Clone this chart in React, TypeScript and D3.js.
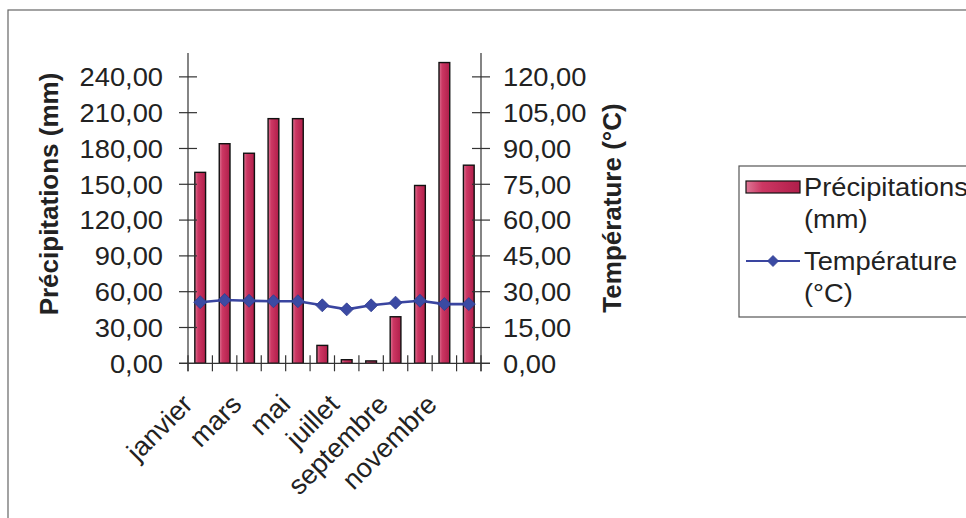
import React, { useMemo } from 'react';
import * as d3 from 'd3';

// Monthly climate data
const months = [
  'janvier', 'février', 'mars', 'avril', 'mai', 'juin',
  'juillet', 'août', 'septembre', 'octobre', 'novembre', 'décembre',
];
const precipitation = [160, 184, 176, 205, 205, 15, 3, 2, 39, 149, 252, 166];
const temperature = [25.6, 26.5, 26.2, 26.0, 26.0, 24.3, 22.6, 24.3, 25.4, 26.2, 24.8, 24.8];
const precipTicks = [0, 30, 60, 90, 120, 150, 180, 210, 240];
const tempTicks = [0, 15, 30, 45, 60, 75, 90, 105, 120];

const FONT = '"Liberation Sans", Arial, sans-serif';

const frLocale = d3.formatLocale({
  decimal: ',',
  thousands: ' ',
  grouping: [3],
  currency: ['', ' €'],
});
const fmt = frLocale.format('.2f');

// the scan is a little wider than tall, so horizontal text gets stretched a bit
const SX = 1.05;

const Label: React.FC<{ x: number; y: number; anchor?: string; children: React.ReactNode }> = ({ x, y, anchor = 'start', children }) => (
  <text
    transform={`translate(${x},${y}) scale(${SX},1)`}
    dy="0.36em"
    textAnchor={anchor}
    fontFamily={FONT}
    fontSize={26}
    fill="#222"
  >
    {children}
  </text>
);

const App: React.FC = () => {
  const svgWidth = 966;
  const svgHeight = 518;

  // plot area
  const left = 188;
  const right = 481;
  const top = 53;
  const bottom = 363.3;

  const chart = useMemo(() => {
    const x = d3.scaleBand<string>()
      .domain(months)
      .range([left, right])
      .paddingInner(0.56)
      .paddingOuter(0.28);

    const yLeft = d3.scaleLinear().domain([0, 260]).range([bottom, top]);
    const yRight = d3.scaleLinear().domain([0, 130]).range([bottom, top]);

    const step = x.step();
    const center = (m: string) => (x(m) ?? 0) + x.bandwidth() / 2;

    const line = d3.line<number>()
      .x((_, i) => center(months[i]))
      .y((d) => yRight(d));

    // category boundaries for tick marks
    const catTicks = d3.range(months.length + 1).map((i) => left + i * step);

    return { x, yLeft, yRight, center, linePath: line(temperature) ?? '', catTicks };
  }, []);

  const { x, yLeft, yRight, center, linePath, catTicks } = chart;
  const axisColor = '#333';
  const diamond = (cx: number, cy: number, r: number) =>
    `M${cx},${cy - r}L${cx + r},${cy}L${cx},${cy + r}L${cx - r},${cy}Z`;

  return (
    <div style={{ position: 'absolute', left: 0, top: 0 }}>
      <svg width={svgWidth} height={svgHeight} viewBox={`0 0 ${svgWidth} ${svgHeight}`} style={{ display: 'block' }}>
        <defs>
          <linearGradient id="barFill" x1="0" x2="1" y1="0" y2="0">
            <stop offset="0%" stopColor="#de7796" />
            <stop offset="30%" stopColor="#cc3763" />
            <stop offset="100%" stopColor="#b01e4a" />
          </linearGradient>
        </defs>

        <rect width={svgWidth} height={svgHeight} fill="#fff" />

        {/* chart frame (runs past the picture) */}
        <rect x={8} y={10} width={1000} height={600} fill="none" stroke="#666" strokeWidth={1.2} />

        {/* bars */}
        {precipitation.map((v, i) => (
          <rect
            key={months[i]}
            x={x(months[i])}
            y={yLeft(v)}
            width={x.bandwidth()}
            height={bottom - yLeft(v)}
            fill="url(#barFill)"
            stroke="#111"
            strokeWidth={1.4}
          />
        ))}

        {/* left axis */}
        <line x1={left} x2={left} y1={top} y2={bottom + 8} stroke={axisColor} strokeWidth={1.2} />
        {precipTicks.map((t) => (
          <g key={`l${t}`}>
            <line x1={left - 9} x2={left + 9} y1={yLeft(t)} y2={yLeft(t)} stroke={axisColor} strokeWidth={1.2} />
            <Label x={163} y={yLeft(t)} anchor="end">{fmt(t)}</Label>
          </g>
        ))}

        {/* right axis */}
        <line x1={right} x2={right} y1={top} y2={bottom + 8} stroke={axisColor} strokeWidth={1.2} />
        {tempTicks.map((t) => (
          <g key={`r${t}`}>
            <line x1={right - 9} x2={right + 9} y1={yRight(t)} y2={yRight(t)} stroke={axisColor} strokeWidth={1.2} />
            <Label x={503} y={yRight(t)}>{fmt(t)}</Label>
          </g>
        ))}

        {/* category axis */}
        <line x1={left - 9} x2={right + 9} y1={bottom} y2={bottom} stroke={axisColor} strokeWidth={1.2} />
        {catTicks.map((cx, i) => (
          <line key={`c${i}`} x1={cx} x2={cx} y1={bottom - 8} y2={bottom + 8} stroke={axisColor} strokeWidth={1.2} />
        ))}
        {months.map((m, i) =>
          i % 2 === 0 ? (
            <text
              key={`m${m}`}
              transform={`translate(${center(m) - 6},${406}) rotate(-45)`}
              textAnchor="end"
              fontFamily={FONT}
              fontSize={27}
              fill="#222"
            >
              {m}
            </text>
          ) : null
        )}

        {/* temperature line */}
        <path d={linePath} fill="none" stroke="#3a45a0" strokeWidth={2.6} />
        {temperature.map((t, i) => (
          <path key={`d${i}`} d={diamond(center(months[i]), yRight(t), 6.5)} fill="#3b4aa3" stroke="#2f3c90" strokeWidth={0.8} />
        ))}

        {/* axis titles */}
        <text
          transform={`translate(58,194) rotate(-90)`}
          textAnchor="middle"
          fontFamily={FONT}
          fontWeight="bold"
          fontSize={26}
          fill="#222"
        >
          Précipitations (mm)
        </text>
        <text
          transform={`translate(621,208) rotate(-90)`}
          textAnchor="middle"
          fontFamily={FONT}
          fontWeight="bold"
          fontSize={26}
          fill="#222"
        >
          Température (°C)
        </text>

        {/* legend */}
        <rect x={739} y={166} width={400} height={151} fill="#fff" stroke="#555" strokeWidth={1.2} />
        <rect x={746} y={181} width={54} height={12} fill="url(#barFill)" stroke="#111" strokeWidth={1.2} />
        <Label x={804} y={187}>Précipitations</Label>
        <Label x={804} y={219}>(mm)</Label>
        <line x1={746} x2={800} y1={261} y2={261} stroke="#3a45a0" strokeWidth={2} />
        <path d={diamond(773, 261, 5.5)} fill="#3b4aa3" stroke="#2f3c90" strokeWidth={0.8} />
        <Label x={804} y={261}>Température</Label>
        <Label x={804} y={293}>(°C)</Label>
      </svg>
    </div>
  );
};

export default App;
